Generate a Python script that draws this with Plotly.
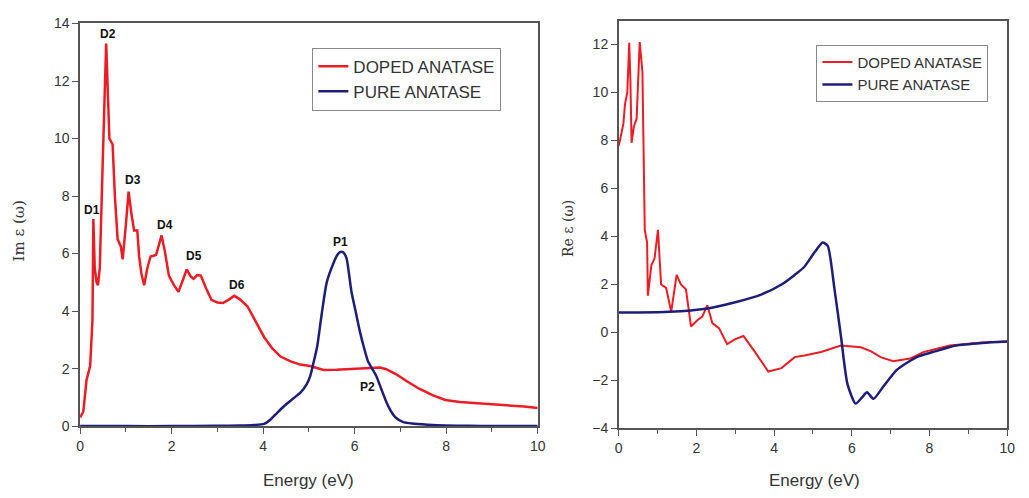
import plotly.graph_objects as go

# ---- Left panel: Im eps(w) ----
im_doped_x = [0, 0.07, 0.14, 0.22, 0.27, 0.29, 0.32, 0.36, 0.39, 0.43, 0.5, 0.57, 0.64, 0.71, 0.76, 0.82,
              0.89, 0.93, 1.0, 1.06, 1.12, 1.18, 1.25, 1.29, 1.34, 1.40, 1.47, 1.54, 1.66, 1.72, 1.78, 1.85,
              1.94, 2.05, 2.15, 2.25, 2.33, 2.42, 2.48, 2.56, 2.64, 2.75, 2.87, 3.0, 3.12, 3.25, 3.37, 3.5,
              3.66, 3.85, 4.02, 4.2, 4.38, 4.6, 4.81, 5.03, 5.32, 5.6, 5.82, 6.1, 6.4, 6.55, 6.69, 6.9, 7.15,
              7.41, 7.7, 7.98, 8.3, 8.7, 9.0, 9.42, 9.7, 10]
im_doped_y = [0.3, 0.5, 1.6, 2.1, 3.7, 7.2, 5.5, 5.0, 4.9, 5.5, 9.5, 13.3, 10.0, 9.8, 8.0, 6.5,
              6.25, 5.8, 7.0, 8.15, 7.4, 6.8, 6.8, 5.9, 5.3, 4.9, 5.5, 5.9, 5.95, 6.3, 6.63, 6.1,
              5.23, 4.9, 4.67, 5.1, 5.45, 5.2, 5.12, 5.25, 5.23, 4.8, 4.39, 4.3, 4.28, 4.4, 4.53, 4.4,
              4.16, 3.6, 3.1, 2.7, 2.42, 2.25, 2.14, 2.09, 1.95, 1.96, 1.98, 2.0, 2.05, 2.04, 1.98, 1.81, 1.55,
              1.3, 1.08, 0.91, 0.84, 0.8, 0.77, 0.72, 0.68, 0.63]

im_pure_x = [0, 1, 2, 3, 3.5, 3.8, 4.02, 4.17, 4.3, 4.46, 4.65, 4.82, 4.95, 5.03, 5.1, 5.18, 5.28, 5.39,
             5.54, 5.62, 5.68, 5.75, 5.82, 5.93, 6.02, 6.11, 6.2, 6.29, 6.38, 6.47, 6.58, 6.69, 6.8, 6.9,
             7.05, 7.26, 7.6, 7.98, 8.5, 9, 10]
im_pure_y = [0, 0, 0, 0.01, 0.02, 0.04, 0.08, 0.24, 0.45, 0.7, 0.95, 1.17, 1.45, 1.75, 2.2, 2.76, 3.9, 5.0,
             5.68, 5.95, 6.05, 6.04, 5.85, 4.67, 4.0, 3.32, 2.75, 2.26, 2.0, 1.75, 1.3, 0.85, 0.5, 0.29,
             0.15, 0.09, 0.05, 0.02, 0.01, 0, 0]

peak_labels = ["D1", "D2", "D3", "D4", "D5", "D6", "P1", "P2"]
peak_x = [0.26, 0.6, 1.15, 1.85, 2.48, 3.43, 5.68, 6.28]
peak_y = [7.5, 13.65, 8.55, 7.0, 5.9, 4.9, 6.4, 1.35]

# ---- Right panel: Re eps(w) ----
re_doped_x = [0, 0.06, 0.12, 0.16, 0.22, 0.27, 0.30, 0.33, 0.39, 0.46, 0.50, 0.54, 0.61, 0.64, 0.67, 0.73,
              0.75, 0.84, 0.92, 1.01, 1.09, 1.22, 1.35, 1.49, 1.6, 1.73, 1.86, 2.03, 2.15, 2.28, 2.41, 2.58,
              2.79, 3.0, 3.21, 3.51, 3.85, 4.19, 4.53, 4.78, 5.21, 5.72, 6.23, 6.5, 6.74, 7.07, 7.5, 7.84,
              8.52, 9.36, 10]
re_doped_y = [7.77, 8.2, 8.7, 9.5, 10.0, 12.07, 10.5, 7.9, 8.58, 8.9, 10.5, 12.1, 10.86, 6.8, 4.27, 3.74,
              1.52, 2.8, 3.06, 4.27, 1.99, 1.85, 0.85, 2.39, 1.99, 1.79, 0.24, 0.51, 0.65, 1.12, 0.38, 0.17,
              -0.5, -0.29, -0.16, -0.83, -1.64, -1.5, -1.04, -0.97, -0.83, -0.56, -0.63, -0.8, -1.04, -1.21,
              -1.1, -0.83, -0.56, -0.43, -0.39]

re_pure_x = [0, 0.5, 1.3, 2.24, 3.0, 3.68, 4.19, 4.53, 4.78, 5.04, 5.25, 5.38, 5.55, 5.72, 5.89, 6.1, 6.27,
             6.39, 6.56, 6.82, 7.16, 7.67, 8.09, 8.68, 9.36, 10]
re_pure_y = [0.82, 0.82, 0.85, 0.98, 1.25, 1.58, 1.99, 2.39, 2.73, 3.33, 3.74, 3.6, 1.85, -0.16, -2.18,
             -2.98, -2.71, -2.51, -2.78, -2.25, -1.57, -1.04, -0.83, -0.56, -0.45, -0.39]

x_ticks = [0, 2, 4, 6, 8, 10]
im_ticks = [0, 2, 4, 6, 8, 10, 12, 14]
re_ticks = [-4, -2, 0, 2, 4, 6, 8, 10, 12]

RED = "#ec1c24"
BLUE = "#1e1e78"
AX = "#555555"
TXT = "#333333"

fig = go.Figure()
fig.add_trace(go.Scatter(x=im_doped_x, y=im_doped_y, mode="lines", name="DOPED ANATASE",
                         line=dict(color=RED, width=2.5), xaxis="x", yaxis="y", legend="legend"))
fig.add_trace(go.Scatter(x=im_pure_x, y=im_pure_y, mode="lines", name="PURE ANATASE",
                         line=dict(color=BLUE, width=2.5, shape="spline", smoothing=0.6),
                         xaxis="x", yaxis="y", legend="legend"))
fig.add_trace(go.Scatter(x=re_doped_x, y=re_doped_y, mode="lines", name="DOPED ANATASE",
                         line=dict(color=RED, width=2), xaxis="x2", yaxis="y2", legend="legend2"))
fig.add_trace(go.Scatter(x=re_pure_x, y=re_pure_y, mode="lines", name="PURE ANATASE",
                         line=dict(color=BLUE, width=2.5, shape="spline", smoothing=0.6),
                         xaxis="x2", yaxis="y2", legend="legend2"))

for lab, px, py in zip(peak_labels, peak_x, peak_y):
    fig.add_annotation(x=px, y=py, xref="x", yref="y", text="<b>%s</b>" % lab, showarrow=False,
                       font=dict(family="Liberation Sans, Arial", size=12, color="#111111"))

axis_common = dict(showline=True, linecolor=AX, linewidth=1.5, mirror=True, ticks="outside",
                   ticklen=6, tickwidth=1.2, tickcolor=AX, showgrid=False, zeroline=False,
                   tickfont=dict(family="Liberation Sans, Arial", size=14, color=TXT))

fig.update_layout(
    width=1029, height=498, autosize=False,
    margin=dict(l=0, r=0, t=0, b=0),
    paper_bgcolor="white", plot_bgcolor="white",
    showlegend=True,
    xaxis=dict(domain=[77 / 1029, 540 / 1029], range=[0, 10], tickvals=x_ticks, anchor="y",
               minor=dict(ticks="outside", ticklen=4, dtick=1, tickcolor=AX), **axis_common),
    yaxis=dict(domain=[66 / 498, 482 / 498], range=[0, 14], tickvals=im_ticks, anchor="x", **axis_common),
    xaxis2=dict(domain=[622 / 1029, 1015 / 1029], range=[0, 10], tickvals=x_ticks, anchor="y2",
                minor=dict(ticks="outside", ticklen=4, dtick=1, tickcolor=AX), **axis_common),
    yaxis2=dict(domain=[64 / 498, 485 / 498], range=[-4, 13], tickvals=re_ticks, anchor="x2", **axis_common),
    legend=dict(x=312 / 1029, y=(498 - 41) / 498, xanchor="left", yanchor="top",
                bordercolor="#888888", borderwidth=1, bgcolor="rgba(255,255,255,0)",
                font=dict(family="Liberation Sans, Arial", size=17, color=TXT), tracegroupgap=0),
    legend2=dict(x=822 / 1029, y=(498 - 38) / 498, xanchor="left", yanchor="top",
                 bordercolor="#888888", borderwidth=1, bgcolor="rgba(255,255,255,0)",
                 font=dict(family="Liberation Sans, Arial", size=15, color=TXT),
                 tracegroupgap=0),
)

fig.add_annotation(x=308 / 1029, y=(498 - 488) / 498, xref="paper", yref="paper", text="Energy (eV)",
                   xanchor="center", yanchor="middle",
                   showarrow=False, font=dict(family="Liberation Sans, Arial", size=17, color=TXT))
fig.add_annotation(x=820 / 1029, y=(498 - 488) / 498, xref="paper", yref="paper", text="Energy (eV)",
                   xanchor="center", yanchor="middle",
                   showarrow=False, font=dict(family="Liberation Sans, Arial", size=17, color=TXT))
fig.add_annotation(x=15 / 1029, y=(498 - 230) / 498, xref="paper", yref="paper", text="Im ε (ω)",
                   xanchor="center", yanchor="middle", textangle=-90, showarrow=False,
                   font=dict(family="DejaVu Serif, Liberation Serif", size=15, color=TXT))
fig.add_annotation(x=570 / 1029, y=(498 - 228) / 498, xref="paper", yref="paper", text="Re ε (ω)",
                   xanchor="center", yanchor="middle", textangle=-90, showarrow=False,
                   font=dict(family="DejaVu Serif, Liberation Serif", size=14, color=TXT))

fig.write_html("out.html")
